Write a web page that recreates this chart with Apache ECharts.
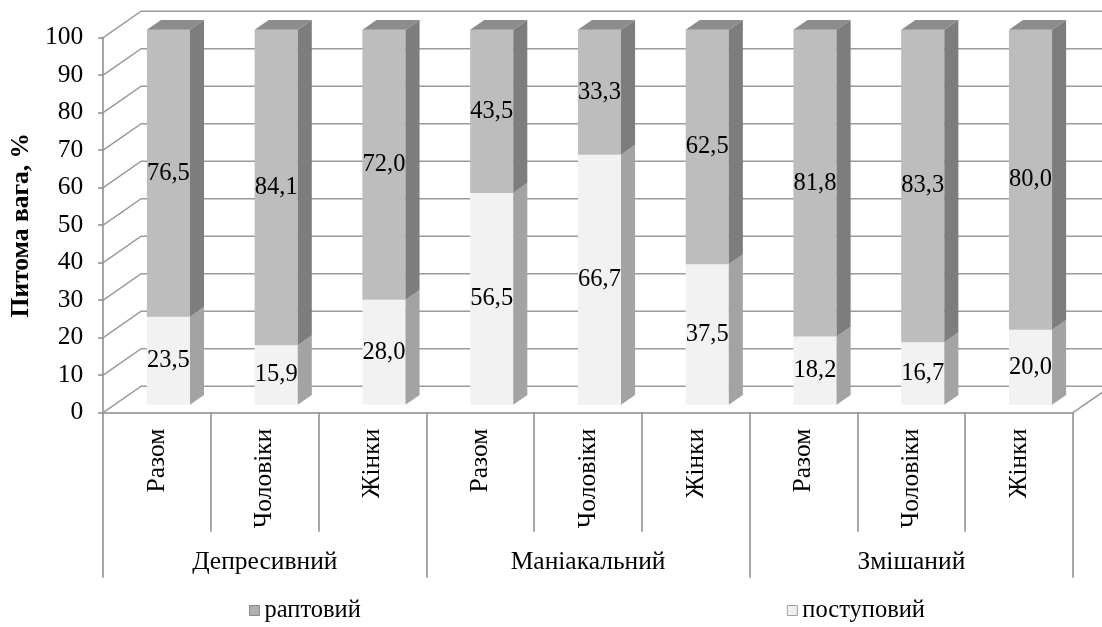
<!DOCTYPE html>
<html><head><meta charset="utf-8">
<script src="https://cdn.jsdelivr.net/npm/echarts@6/dist/echarts.min.js"></script>
<style>html,body{margin:0;padding:0;background:#fff}#c{width:1102px;height:627px}</style>
</head><body><div id="c"></div>
<script>
// ---- data ----
const categories = ['Разом', 'Чоловіки', 'Жінки', 'Разом', 'Чоловіки', 'Жінки', 'Разом', 'Чоловіки', 'Жінки'];
const groups = ['Депресивний', 'Маніакальний', 'Змішаний'];
const sudden = [76.5, 84.1, 72.0, 43.5, 33.3, 62.5, 81.8, 83.3, 80.0];   // раптовий
const gradual = [23.5, 15.9, 28.0, 56.5, 66.7, 37.5, 18.2, 16.7, 20.0];  // поступовий
const yTicks = [0, 10, 20, 30, 40, 50, 60, 70, 80, 90, 100];
const seriesNames = ['раптовий', 'поступовий'];
const yTitle = 'Питома вага, %';

// ---- style ----
const FONT = "'Liberation Serif', 'Times New Roman', 'DejaVu Serif', serif";
const FS = 25.5;      // axis texts
const FS_LBL = 24.5;  // data labels, legend
const DEPTH = [38, -26.5];
const BAR_SHIFT = 0.3, BAR_DEPTH = 0.37, BAR_WIDTH = 0.4;
const GRID_COLOR = '#9a9a9a';
const AXIS_COLOR = '#8a8a8a';
const COLORS = {
  'раптовий': {front: '#bdbdbd', side: '#7d7d7d', top: '#8c8c8c', icon: '#b0b0b0', border: '#8a8a8a'},
  'поступовий': {front: '#f2f2f2', side: '#a3a3a3', top: '#c8c8c8', icon: '#f0f0f0', border: '#a0a0a0'}
};
const fmt = v => v.toFixed(1).replace('.', ',');

function wallItem(params, api) {
  const cs = params.coordSys;
  const v = api.value(1);
  const y = api.coord([0, v])[1];
  const x0 = cs.x, x1 = cs.x + cs.width;
  const children = [{
    type: 'polyline',
    shape: {points: [[x0, y], [x0 + DEPTH[0], y + DEPTH[1]], [x1 + DEPTH[0], y + DEPTH[1]]]},
    style: {stroke: GRID_COLOR, lineWidth: 1.5, fill: null}
  }];
  if (v === 0) {
    children.push({
      type: 'line',
      shape: {x1: x1, y1: y, x2: x1 + DEPTH[0], y2: y + DEPTH[1]},
      style: {stroke: GRID_COLOR, lineWidth: 1.5}
    });
  }
  return {type: 'group', children: children};
}

function makeBarItem(col) {
  return function (params, api) {
    const i = api.value(0), lo = api.value(1), hi = api.value(2), isTop = api.value(3);
    const c0 = api.coord([i, lo]), c1 = api.coord([i, hi]);
    const band = api.size([1, 0])[0];
    const w = band * BAR_WIDTH;
    const sx = DEPTH[0] * BAR_SHIFT, sy = DEPTH[1] * BAR_SHIFT;
    const dx = DEPTH[0] * BAR_DEPTH, dy = DEPTH[1] * BAR_DEPTH;
    const xl = c0[0] - w / 2 + sx, xr = c0[0] + w / 2 + sx;
    const yb = c0[1] + sy, yt = c1[1] + sy;
    const children = [
      {type: 'rect', shape: {x: xl, y: yt, width: xr - xl, height: yb - yt}, style: {fill: col.front}},
      {type: 'polygon', shape: {points: [[xr, yb], [xr + dx, yb + dy], [xr + dx, yt + dy], [xr, yt]]}, style: {fill: col.side}}
    ];
    if (isTop) {
      children.push({type: 'polygon', shape: {points: [[xl, yt], [xr, yt], [xr + dx, yt + dy], [xl + dx, yt + dy]]}, style: {fill: col.top}});
    }
    children.push({
      type: 'text',
      style: {
        text: fmt(hi - lo), x: (xl + xr) / 2, y: (yb + yt) / 2,
        align: 'center', verticalAlign: 'middle',
        fontFamily: FONT, fontSize: FS_LBL, fill: '#000'
      },
      z2: 10
    });
    return {type: 'group', children: children};
  };
}

const chart = echarts.init(document.getElementById('c'), null, {renderer: 'canvas'});
chart.setOption({
  animation: false,
  backgroundColor: '#fff',
  textStyle: {fontFamily: FONT},
  grid: {left: 98, right: 29, top: 37.7, bottom: 214.3, containLabel: false},
  legend: {
    left: 244, top: 593,
    itemWidth: 10, itemHeight: 10, itemGap: 426,
    textStyle: {fontFamily: FONT, fontSize: FS_LBL, color: '#000'},
    data: seriesNames.map(n => ({name: n, icon: 'rect', itemStyle: {color: COLORS[n].icon, borderColor: COLORS[n].border, borderWidth: 1}}))
  },
  xAxis: [{
    type: 'category', data: categories, position: 'bottom',
    axisLine: {show: true, lineStyle: {color: AXIS_COLOR, width: 1.5}},
    axisTick: {show: true, interval: 0, length: 119, lineStyle: {color: AXIS_COLOR, width: 1.5}},
    axisLabel: {interval: 0, rotate: 90, margin: 16, fontFamily: FONT, fontSize: FS, color: '#000'},
    splitLine: {show: false}
  }, {
    type: 'category', data: groups, position: 'bottom',
    axisLine: {show: false},
    axisTick: {show: true, interval: 0, length: 165, lineStyle: {color: AXIS_COLOR, width: 1.5}},
    axisLabel: {interval: 0, margin: 137, fontFamily: FONT, fontSize: FS, color: '#000'},
    splitLine: {show: false}
  }],
  yAxis: {
    type: 'value', min: 0, max: 100, interval: 10,
    name: yTitle, nameLocation: 'middle', nameRotate: 90, nameGap: 63,
    nameTextStyle: {fontFamily: FONT, fontSize: FS, fontWeight: 'bold', color: '#000'},
    axisLine: {show: true, lineStyle: {color: AXIS_COLOR, width: 1.5}},
    axisTick: {show: true, length: 5, lineStyle: {color: AXIS_COLOR, width: 1.5}},
    axisLabel: {margin: 20, fontFamily: FONT, fontSize: FS, color: '#000'},
    splitLine: {show: false}
  },
  series: [{
    type: 'custom', name: '_wall', z: 1, silent: true,
    renderItem: wallItem, encode: {x: 0, y: 1},
    data: yTicks.map(v => [0, v])
  }, {
    type: 'custom', name: 'поступовий', z: 2,
    itemStyle: {color: COLORS['поступовий'].front},
    renderItem: makeBarItem(COLORS['поступовий']), encode: {x: 0, y: [1, 2]},
    data: gradual.map((v, i) => [i, 0, v, 0])
  }, {
    type: 'custom', name: 'раптовий', z: 3,
    itemStyle: {color: COLORS['раптовий'].front},
    renderItem: makeBarItem(COLORS['раптовий']), encode: {x: 0, y: [1, 2]},
    data: sudden.map((v, i) => [i, gradual[i], gradual[i] + v, 1])
  }]
});
</script></body></html>
